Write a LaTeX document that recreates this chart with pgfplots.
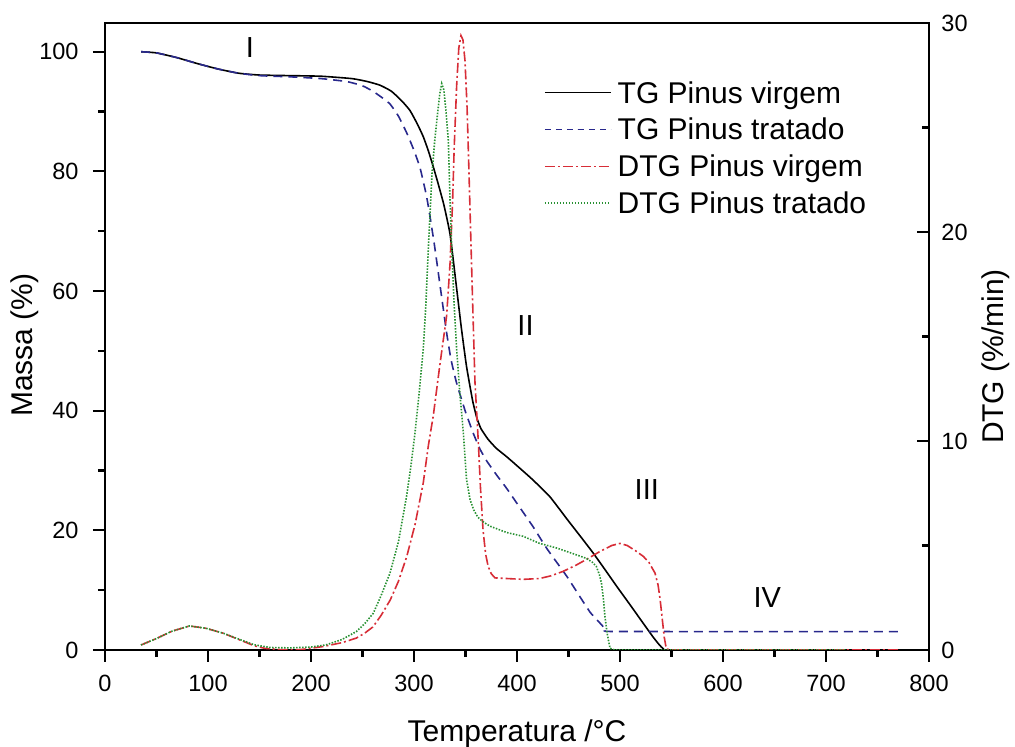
\documentclass[border=0pt]{standalone}
\usepackage{fontspec}
\setmainfont{Liberation Sans}
\usepackage{pgfplots}
\pgfplotsset{compat=1.18}
\definecolor{tgblue}{RGB}{40,40,140}
\definecolor{dtgred}{RGB}{215,45,55}
\definecolor{dtggreen}{RGB}{40,145,50}
\pgfplotsset{
  every axis/.append style={line width=2.2pt},
  every tick/.append style={black, line width=2.2pt},
  every minor tick/.append style={black, line width=2.2pt},
  every major tick/.append style={black, line width=2.2pt},
  common/.style={scale only axis, width=824pt, height=627pt, xmin=0, xmax=800,
    /pgf/number format/assume math mode=true,
    tick label style={font=\fontsize{23.5}{27}\selectfont},
    major tick length=12pt, minor tick length=7pt,
    axis line style={line width=2.2pt, black},
  }
}
\begin{document}
\begin{tikzpicture}
\begin{axis}[common, ymin=0, ymax=104.8,
  xtick={0,100,...,800}, minor x tick num=1,
  ytick={0,20,...,100}, minor y tick num=1,
  xtick pos=bottom, ytick pos=left, tick align=outside,
  yticklabel style={xshift=-10pt}, xticklabel style={yshift=-9pt}]
\coordinate (BL) at (rel axis cs:0,0);
\coordinate (TR) at (rel axis cs:1,1);
% TG Pinus virgem
\addplot[black, line width=1.6pt, smooth, tension=0.3] coordinates {
(35,100) (50,99.8) (70,99.0) (90,98.0) (110,97.1) (130,96.4) (150,96.1) (180,96.0)
(210,95.9) (240,95.5) (255,95.0) (267,94.4) (278,93.4) (288,91.8) (296,90.2) (303,88.0)
(309,85.8) (314,83.4) (319,80.6) (324,77.6) (329,74.4) (335,69.5) (341,61.0) (346,53.8)
(351,47.4) (357,41.6) (361,38.8) (365,37.0) (372,35.2) (380,33.7) (390,32.3) (400,30.8)
(415,28.5) (432,25.6) (448,22.0) (462,18.9) (474,16.2) (486,13.3) (497,10.6) (510,7.5)
(522,4.6) (532,2.2) (538,0.9) (542,0.2) (546,0) (600,0) (700,0) (770,0)};
% TG Pinus tratado
\addplot[tgblue, line width=1.6pt, dash pattern=on 9pt off 6pt, smooth, tension=0.3] coordinates {
(35,100) (50,99.8) (70,99.0) (90,98.0) (110,97.1) (130,96.4) (150,96.0) (180,95.8)
(210,95.5) (235,95.0) (250,94.3) (260,93.4) (270,92.2) (277,91.2) (285,89.2) (293,86.4)
(300,83.5) (306,80.5) (312,76.0) (315.5,72.5) (320,67.5) (325,61.3) (331.7,53) (336,48.5)
(341.4,44.6) (350,39.8) (357.6,36.2) (364,33.6) (370.6,31.6) (380,29.3) (390,27.0)
(400,24.5) (415.6,20.6) (428.8,17.0) (448,12.4) (460,9.2) (471,6.3) (480,4.6) (487,3.3)
(490,3.1) (600,3.08) (700,3.06) (771.8,3.06)};
\node[font=\fontsize{29}{34}\selectfont] at (axis cs:140.8,100.7) {I};
\node[font=\fontsize{29}{34}\selectfont] at (axis cs:408.3,54.2) {II};
\node[font=\fontsize{29}{34}\selectfont] at (axis cs:526,26.9) {III};
\node[font=\fontsize{29}{34}\selectfont] at (axis cs:643,8.7) {IV};
\end{axis}
\begin{axis}[common, ymin=0, ymax=30,
  axis x line=none, axis y line*=right,
  ytick={0,10,20,30}, minor y tick num=1, tick align=inside,
  yticklabel style={xshift=8pt},
  legend style={at={(rel axis cs:0.5316,0.912)}, anchor=north west, draw=none, fill=none,
    font=\fontsize{30}{34}\selectfont, row sep=9.5pt, inner sep=0pt, nodes={inner sep=2pt},
    /tikz/column 2/.style={column sep=0pt}},
  legend cell align=left,
  legend image code/.code={\draw[mark repeat=2,mark phase=2,#1] plot coordinates {(0pt,0pt) (33pt,0pt) (66pt,0pt)};}]
\addlegendimage{black, line width=1.2pt}
\addlegendentry{\hspace{4pt}TG Pinus virgem}
\addlegendimage{tgblue, line width=1.2pt, dash pattern=on 6pt off 5pt}
\addlegendentry{\hspace{4pt}TG Pinus tratado}
% DTG Pinus virgem
\addplot[dtgred, line width=1.6pt, dash pattern=on 10pt off 3pt on 2pt off 3pt] coordinates {
(35,0.24) (50,0.55) (65,0.9) (82,1.15) (98,1.04) (115,0.8) (131,0.48) (145,0.2) (155,0.08)
(170,0.02) (190,0.02) (211,0.16) (230,0.35) (244,0.57) (252,0.8) (260,1.1) (268,1.65)
(277,2.4) (285,3.3) (293,4.48) (301,6.0) (309,8.0) (314,9.8) (318.7,11.2) (325,13.6)
(331.7,16.0) (335,18.5) (337.5,21.5) (339,24.0) (341.4,27.0) (343.5,28.8) (345.6,29.4)
(347.5,29.2) (349.5,28.2) (351.5,26.0) (353,23.5) (355,20.0) (357,16.5) (359.2,12.8)
(362.4,10.0) (364.5,7.8) (367,5.76) (369.5,4.6) (372,4.0) (375,3.65) (378.6,3.45)
(390,3.42) (406,3.38) (422,3.42) (433,3.55) (444.7,3.76) (457,4.05) (468,4.35) (480,4.7)
(492,5.0) (500,5.1) (507,5.0) (515,4.75) (522.6,4.48) (528,4.2) (534,3.68) (537,3.1)
(539,2.4) (541,1.5) (543,0.6) (545,0.05) (550,0) (650,0) (770,0)};
\addlegendentry{\hspace{4pt}DTG Pinus virgem}
% DTG Pinus tratado
\addplot[dtggreen, line width=1.6pt, dash pattern=on 1.5pt off 1.5pt] coordinates {
(35,0.24) (50,0.55) (65,0.9) (82,1.15) (98,1.04) (115,0.8) (131,0.5) (145,0.25) (160,0.12)
(180,0.1) (200,0.14) (215,0.25) (230,0.5) (244,0.88) (252,1.25) (260.5,1.76) (268,2.6)
(276.7,3.68) (285,5.2) (292.8,7.36) (297,8.8) (301,10.4) (305,12.3) (309,14.4) (311.5,16.5)
(313.9,19.2) (315.5,20.8) (317.5,22.8) (320,24.3) (322.5,25.5) (325,26.6) (326.9,27.1)
(329,26.8) (331,25.8) (333.3,24.4) (335,21.5) (336.6,19.2) (339,16.5) (341.4,14.4)
(344.5,12.3) (347.9,10.4) (351,8.16) (354.4,7.2) (358,6.7) (362,6.35) (368,6.1) (374,5.92)
(390,5.62) (406,5.44) (422,5.1) (438.5,4.88) (455,4.6) (467.6,4.38) (473,4.2) (477,4.0)
(480,3.6) (482,3.2) (484,2.4) (485.4,1.6) (487.5,0.8) (490.3,0.08) (495,0) (600,0) (720,0)};
\addlegendentry{\hspace{4pt}DTG Pinus tratado}
\end{axis}
\node[font=\fontsize{30}{36}\selectfont, anchor=base] at ([xshift=412pt, yshift=-92pt]BL) {Temperatura /°C};
\node[font=\fontsize{30}{36}\selectfont, anchor=base, rotate=90] at ([xshift=-72pt, yshift=305pt]BL) {Massa (\%)};
\node[font=\fontsize{30}{36}\selectfont, anchor=base, rotate=90] at ([xshift=898pt, yshift=293.5pt]BL) {DTG (\%/min)};
\pgfresetboundingbox
\path ([xshift=-105pt,yshift=-97pt]BL) rectangle ([xshift=86pt,yshift=23pt]TR);
\end{tikzpicture}
\end{document}
